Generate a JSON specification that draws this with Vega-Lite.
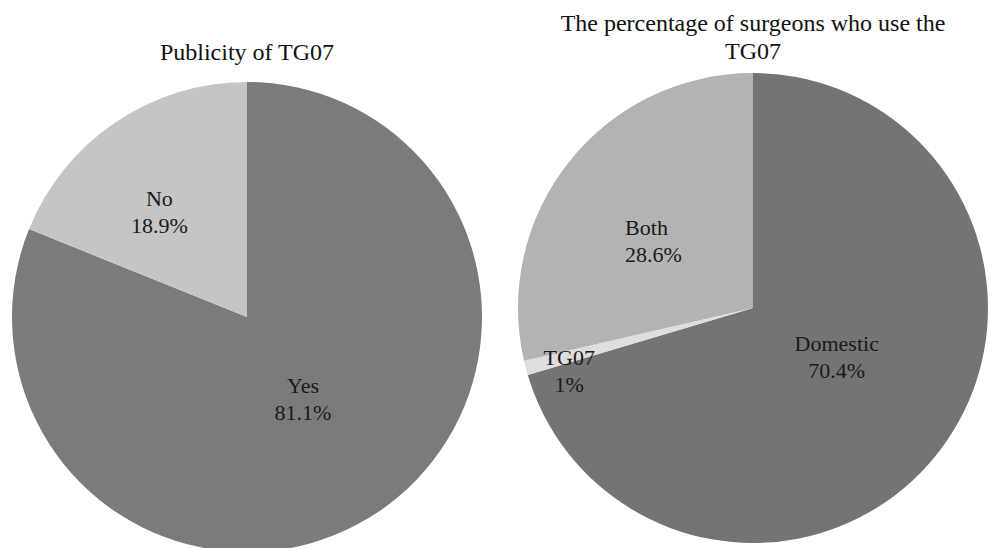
{
  "$schema": "https://vega.github.io/schema/vega-lite/v6.json",
  "background": "white",
  "padding": {"left": 12, "top": 12, "right": 0, "bottom": 0},
  "spacing": 36,
  "config": {"view": {"stroke": null}, "font": "Liberation Serif"},
  "datasets": {
    "pub": [
      {"cat": "Yes", "value": 81.1, "label": "Yes\n81.1%", "k": 1},
      {"cat": "No", "value": 18.9, "label": "No\n18.9%", "k": 2}
    ],
    "use": [
      {"cat": "Domestic", "value": 70.4, "label": "Domestic\n70.4%", "k": 1},
      {"cat": "TG07", "value": 1.0, "label": "TG07\n1%", "k": 2},
      {"cat": "Both", "value": 28.6, "label": "Both\n28.6%", "k": 3}
    ]
  },
  "resolve": {"scale": {"color": "independent", "theta": "independent"}},
  "hconcat": [
    {
      "title": {"text": ["", "Publicity of TG07"], "offset": 8, "fontSize": 24, "lineHeight": 28, "font": "Liberation Serif", "fontWeight": "normal", "color": "#111111", "anchor": "middle"},
      "width": 470,
      "height": 488,
      "data": {"name": "pub"},
      "encoding": {
        "theta": {"field": "value", "type": "quantitative", "stack": true},
        "order": {"field": "k", "type": "quantitative"}
      },
      "layer": [
        {
          "mark": {"type": "arc", "outerRadius": 235},
          "encoding": {
            "color": {"field": "cat", "type": "nominal", "scale": {"domain": ["Yes", "No"], "range": ["#7b7b7b", "#c4c5c4"]}, "legend": null}
          }
        },
        {
          "mark": {"type": "text", "radius": 100, "dy": -14, "fontSize": 22, "font": "Liberation Serif", "lineBreak": "\n", "lineHeight": 27, "fill": "#1a1a1a", "align": "center", "baseline": "middle"},
          "encoding": {
            "detail": {"field": "cat", "type": "nominal"},
            "text": {"condition": {"test": "datum.cat === 'Yes'", "field": "label"}, "value": ""}
          }
        },
        {
          "mark": {"type": "text", "radius": 137, "dx": -11, "dy": -4, "fontSize": 22, "font": "Liberation Serif", "lineBreak": "\n", "lineHeight": 27, "fill": "#1a1a1a", "align": "center", "baseline": "middle"},
          "encoding": {
            "detail": {"field": "cat", "type": "nominal"},
            "text": {"condition": {"test": "datum.cat === 'No'", "field": "label"}, "value": ""}
          }
        }
      ]
    },
    {
      "title": {"text": ["The percentage of surgeons who use the", "TG07"], "offset": 9, "fontSize": 24, "lineHeight": 28, "font": "Liberation Serif", "fontWeight": "normal", "color": "#111111", "anchor": "middle"},
      "width": 470,
      "height": 470,
      "data": {"name": "use"},
      "encoding": {
        "theta": {"field": "value", "type": "quantitative", "stack": true},
        "order": {"field": "k", "type": "quantitative"}
      },
      "layer": [
        {
          "mark": {"type": "arc", "outerRadius": 235},
          "encoding": {
            "color": {"field": "cat", "type": "nominal", "scale": {"domain": ["Domestic", "TG07", "Both"], "range": ["#747474", "#dedede", "#b3b3b5"]}, "legend": null}
          }
        },
        {
          "mark": {"type": "text", "radius": 97, "dx": 6, "dy": -22, "fontSize": 22, "font": "Liberation Serif", "lineBreak": "\n", "lineHeight": 27, "fill": "#1a1a1a", "align": "center", "baseline": "middle"},
          "encoding": {
            "detail": {"field": "cat", "type": "nominal"},
            "text": {"condition": {"test": "datum.cat === 'Domestic'", "field": "label"}, "value": ""}
          }
        },
        {
          "mark": {"type": "text", "radius": 190, "dy": 2, "fontSize": 22, "font": "Liberation Serif", "lineBreak": "\n", "lineHeight": 27, "fill": "#1a1a1a", "align": "center", "baseline": "middle"},
          "encoding": {
            "detail": {"field": "cat", "type": "nominal"},
            "text": {"condition": {"test": "datum.cat === 'TG07'", "field": "label"}, "value": ""}
          }
        },
        {
          "mark": {"type": "text", "radius": 120, "dx": -34, "dy": -5, "fontSize": 22, "font": "Liberation Serif", "lineBreak": "\n", "lineHeight": 27, "fill": "#1a1a1a", "align": "left", "baseline": "middle"},
          "encoding": {
            "detail": {"field": "cat", "type": "nominal"},
            "text": {"condition": {"test": "datum.cat === 'Both'", "field": "label"}, "value": ""}
          }
        }
      ]
    }
  ]
}
